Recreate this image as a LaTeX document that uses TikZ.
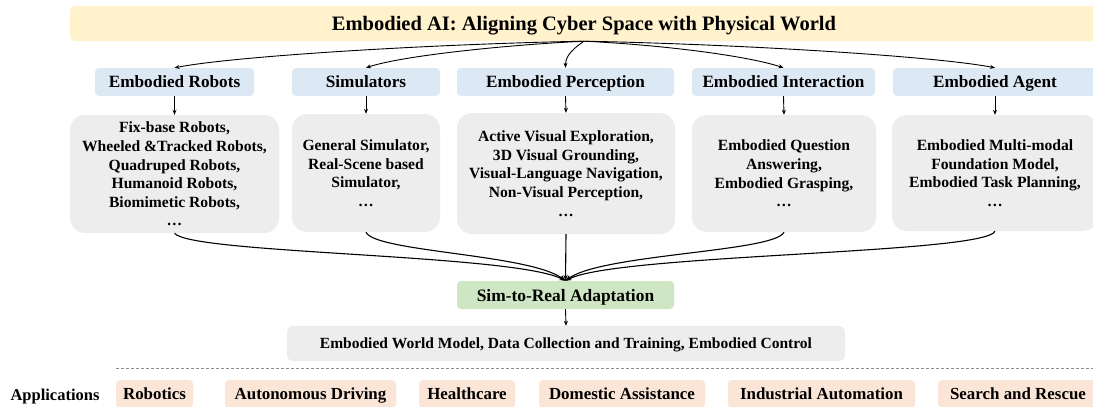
\documentclass[tikz,border=0pt]{standalone}
\usepackage{fontspec}
\setmainfont{Liberation Serif}
\usetikzlibrary{arrows.meta}
\definecolor{titlebg}{RGB}{255,242,204}
\definecolor{headbg}{RGB}{221,232,245}
\definecolor{itembg}{RGB}{237,237,237}
\definecolor{simbg}{RGB}{207,230,196}
\definecolor{appbg}{RGB}{251,229,214}
\definecolor{sepgray}{RGB}{140,140,140}
\begin{document}
\begin{tikzpicture}[x=1pt,y=-1pt,
  base/.style={inner sep=0pt, align=center, text=black},
  oneline/.style={text height=#1, text depth=0pt},
  titlebox/.style={base, oneline=14pt, fill=titlebg, rounded corners=5pt, font=\fontsize{20.5}{24}\bfseries\selectfont},
  head/.style={base, oneline=11.8pt, fill=headbg, rounded corners=4pt, minimum height=28pt, font=\fontsize{17.2}{20}\bfseries\selectfont},
  itembox/.style={base, fill=itembg, rounded corners=15pt, font=\fontsize{15.6}{18.6}\bfseries\selectfont},
  simbox/.style={base, oneline=12pt, fill=simbg, rounded corners=4pt, minimum height=28pt, font=\fontsize{17.4}{20}\bfseries\selectfont},
  botbox/.style={base, oneline=10.7pt, fill=itembg, rounded corners=6pt, minimum height=35pt, font=\fontsize{15.5}{18}\bfseries\selectfont},
  appbox/.style={base, oneline=11.6pt, fill=appbg, rounded corners=4pt, minimum height=28pt, font=\fontsize{16.9}{19}\bfseries\selectfont},
  applabel/.style={base, oneline=11.4pt, font=\fontsize{16.5}{19}\bfseries\selectfont},
  arr/.style={line width=0.9pt, -{Stealth[length=5pt,width=4pt]}},
  link/.style={line width=1.1pt, -{Stealth[length=6pt,width=4.5pt]}},
  sep/.style={sepgray, line width=0.6pt, dash pattern=on 3pt off 2pt}
]
\useasboundingbox (0,0) rectangle (1093,407);
\clip (0,0) rectangle (1093,407);
\fill[white] (0,0) rectangle (1093,407);

% title
\node[titlebox, minimum width=1028pt, minimum height=35pt] (title) at (584,23.5) {Embodied AI: Aligning Cyber Space with Physical World};

% headers
\node[head, minimum width=159pt] (h1) at (174.5,82) {Embodied Robots};
\node[head, minimum width=148pt] (h2) at (366,82) {Simulators};
\node[head, minimum width=217pt] (h3) at (565.5,82) {Embodied Perception};
\node[head, minimum width=183pt] (h4) at (783.5,82) {Embodied Interaction};
\node[head, minimum width=204pt] (h5) at (995,82) {Embodied Agent};

% item boxes
\node[itembox, minimum width=209pt, minimum height=118pt] (i1) at (174.5,174) {Fix-base Robots,\\Wheeled \&Tracked Robots,\\Quadruped Robots,\\Humanoid Robots,\\Biomimetic Robots,\\\dots};
\node[itembox, minimum width=148pt, minimum height=118pt] (i2) at (366,173) {General Simulator,\\Real-Scene based\\Simulator,\\\dots};
\node[itembox, minimum width=218pt, minimum height=121pt] (i3) at (566,173.5) {Active Visual Exploration,\\3D Visual Grounding,\\Visual-Language Navigation,\\Non-Visual Perception,\\\dots};
\node[itembox, minimum width=184pt, minimum height=117pt] (i4) at (784,173.5) {Embodied Question\\Answering,\\Embodied Grasping,\\\dots};
\node[itembox, minimum width=206pt, minimum height=116pt] (i5) at (995,173) {Embodied Multi-modal\\Foundation Model,\\Embodied Task Planning,\\\dots};

% sim-to-real and bottom
\node[simbox, minimum width=217pt] (sim) at (565.5,295) {Sim-to-Real Adaptation};
\node[botbox, minimum width=558pt] (bot) at (566,343.5) {Embodied World Model, Data Collection and Training, Embodied Control};

% separator
\coordinate (sepL) at (116,368);
\coordinate (sepR) at (1093,368);
\draw[sep] (sepL) -- (sepR);

% applications
\node[applabel] (app) at (55,395) {Applications};
\node[appbox, minimum width=77pt] (a1) at (154.5,394) {Robotics};
\node[appbox, minimum width=171pt] (a2) at (310.5,394) {Autonomous Driving};
\node[appbox, minimum width=96pt] (a3) at (467,394) {Healthcare};
\node[appbox, minimum width=166pt] (a4) at (622,394) {Domestic Assistance};
\node[appbox, minimum width=187pt] (a5) at (821.5,394) {Industrial Automation};
\node[appbox, minimum width=160pt] (a6) at (1018,394) {Search and Rescue};

% top fan-out arrows
\draw[arr] (title.south) .. controls (434,44) and (235,56) .. (h1.north);
\draw[arr] (title.south) .. controls (504,45) and (401,56) .. (h2.north);
\draw[arr] (title.south) .. controls (576,47) and (565.5,54) .. (h3.north);
\draw[arr] (title.south) .. controls (664,45) and (748,56) .. (h4.north);
\draw[arr] (title.south) .. controls (734,44) and (934,56) .. (h5.north);

% header to items
\draw[arr] (h1.south) -- (i1.north);
\draw[arr] (h2.south) -- (i2.north);
\draw[arr] (h3.south) -- (i3.north);
\draw[arr] (h4.south) -- (i4.north);
\draw[arr] (h5.south) -- (i5.north);

% fan-in to sim-to-real
\draw[link] (i1.south) .. controls (190,254) and (515,254) .. (sim.north);
\draw[link] (i2.south) .. controls (375,252) and (530,254) .. (sim.north);
\draw[link] (i3.south) -- (sim.north);
\draw[link] (i4.south) .. controls (775,252) and (601,254) .. (sim.north);
\draw[link] (i5.south) .. controls (985,254) and (616,254) .. (sim.north);

\draw[arr] (sim.south) -- (bot.north);
\end{tikzpicture}
\end{document}
